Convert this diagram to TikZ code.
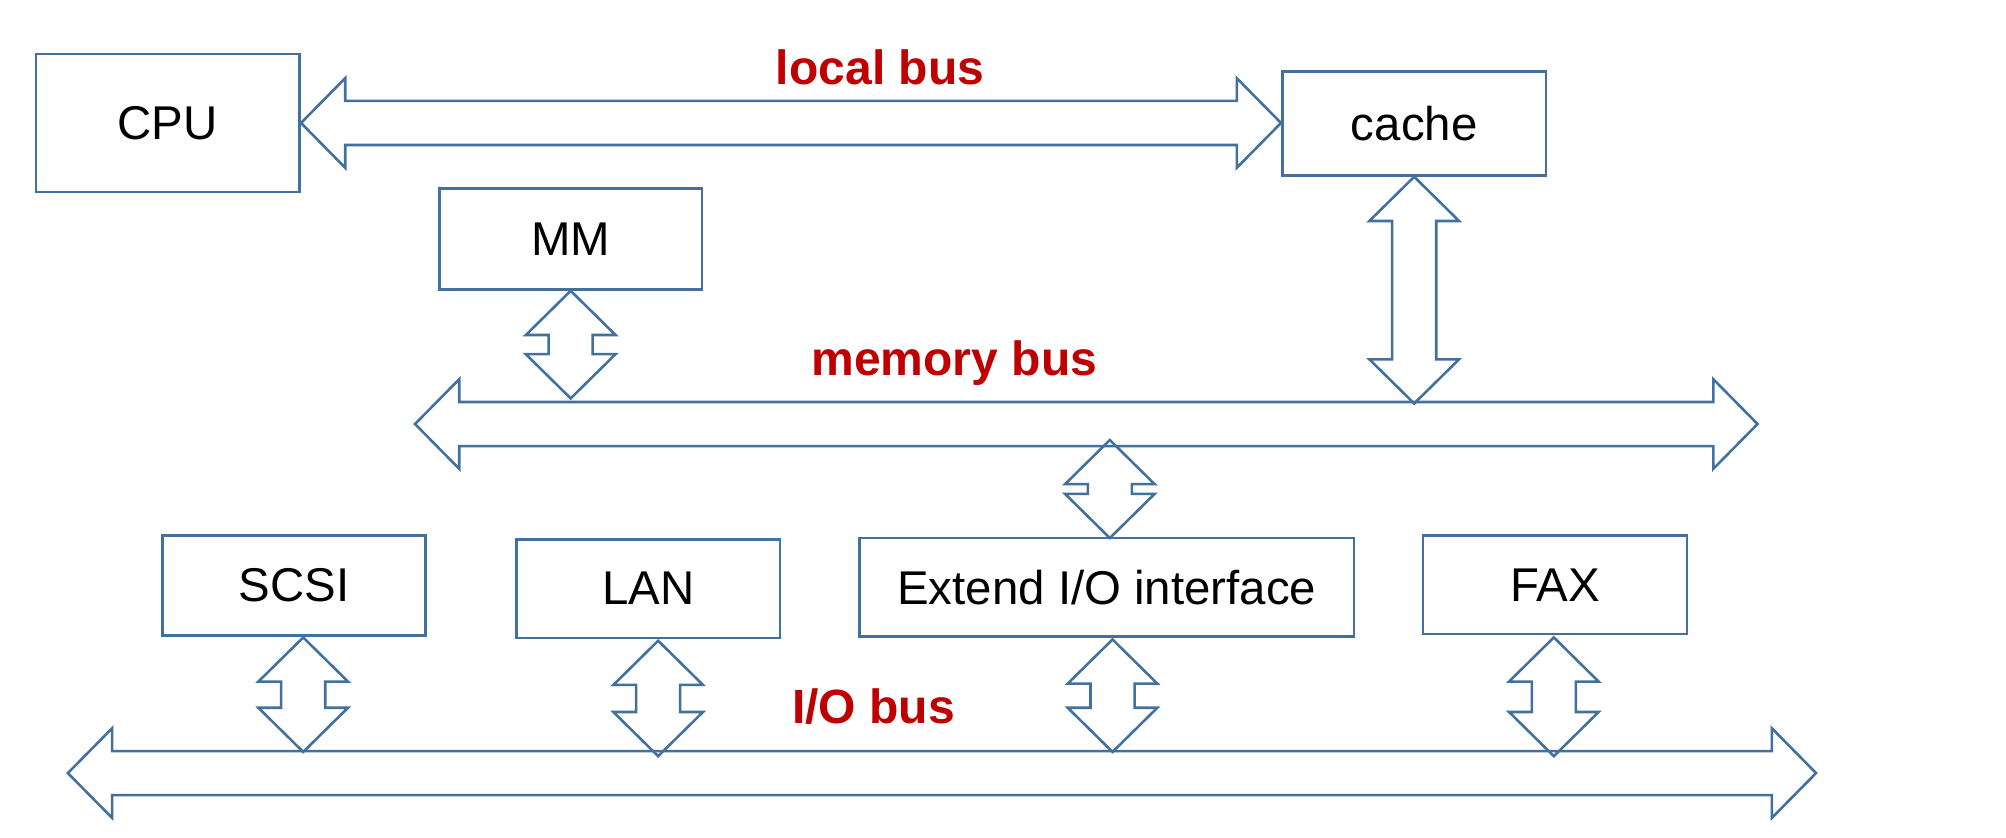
\documentclass[tikz,border=0pt]{standalone}
\usepackage{fontspec}
\setmainfont{Liberation Sans}
\usetikzlibrary{calc}
\definecolor{busblue}{RGB}{65,113,156}
\definecolor{busred}{RGB}{192,0,0}
\tikzset{
  unit box/.style={draw=busblue, line width=2pt, inner sep=0pt, text=black,
    font=\fontsize{37}{42}\selectfont},
  busline/.style={draw=busblue, line width=2pt, line join=miter},
  buslabel/.style={anchor=base, text=busred, inner sep=0pt,
    font=\fontsize{37.5}{42}\selectfont\bfseries}
}
% vertical double block arrow: #1 top tip, #2 bottom tip
\newcommand\vbarrow[2]{%
  \draw[busline] let \p1=#1, \p2=#2 in
    (\x1,\y1) -- (\x1+35pt,\y1-34.5pt) -- (\x1+17.2pt,\y1-34.5pt)
    -- (\x1+17.2pt,\y2+34.5pt) -- (\x1+35pt,\y2+34.5pt) -- (\x1,\y2)
    -- (\x1-35pt,\y2+34.5pt) -- (\x1-17.2pt,\y2+34.5pt)
    -- (\x1-17.2pt,\y1-34.5pt) -- (\x1-35pt,\y1-34.5pt) -- cycle;}
% horizontal double block arrow: #1 left tip, #2 right tip
\newcommand\hbarrow[2]{%
  \draw[busline] let \p1=#1, \p2=#2 in
    (\x1,\y1) -- (\x1+34.5pt,\y1+35pt) -- (\x1+34.5pt,\y1+17.2pt)
    -- (\x2-34.5pt,\y1+17.2pt) -- (\x2-34.5pt,\y1+35pt) -- (\x2,\y1)
    -- (\x2-34.5pt,\y1-35pt) -- (\x2-34.5pt,\y1-17.2pt)
    -- (\x1+34.5pt,\y1-17.2pt) -- (\x1+34.5pt,\y1-35pt) -- cycle;}
\begin{document}
\begin{tikzpicture}[x=1pt,y=-1pt]
\fill[white] (0,0) rectangle (1566,654);
\useasboundingbox (0,0) rectangle (1566,654);

% boxes
\node[unit box, minimum width=206pt, minimum height=108pt] (cpu) at (131,96) {CPU};
\node[unit box, minimum width=206pt, minimum height=81pt] (cache) at (1104,96.5) {cache};
\node[unit box, minimum width=205pt, minimum height=79pt] (mm) at (445.5,186.5) {MM};
\node[unit box, minimum width=205pt, minimum height=78pt] (scsi) at (229.5,457) {SCSI};
\node[unit box, minimum width=206pt, minimum height=77pt] (lan) at (506,459.5) {LAN};
\node[unit box, minimum width=386pt, minimum height=77pt] (ext) at (864,458.5) {Extend I/O interface};
\node[unit box, minimum width=206pt, minimum height=77pt] (fax) at (1214,456.5) {FAX};

% bus end points
\coordinate (mbL) at (324,331);
\coordinate (mbR) at (1372,331);
\coordinate (ioL) at (53,603.5);
\coordinate (ioR) at (1417.7,603.5);

% buses
\hbarrow{(cpu.east)}{(cache.west)}
\hbarrow{(mbL)}{(mbR)}
\hbarrow{(ioL)}{(ioR)}

% connector tips on the buses
\coordinate (cacheB) at (1104,315);
\coordinate (mmB) at (445.5,311);
\coordinate (extT) at (866.4,343.5);
\coordinate (extB) at (866.4,420);
\coordinate (extIoT) at (868.5,499.2);
\coordinate (extIoB) at (868.5,587);
\coordinate (scsiB) at (236.7,587);
\coordinate (scsiT) at (236.7,497.6);
\coordinate (lanT) at (513.8,500.2);
\coordinate (lanB) at (513.8,590.3);
\coordinate (faxT) at (1213,497.6);
\coordinate (faxB) at (1213,590.3);

\vbarrow{(cache.south)}{(cacheB)}
\vbarrow{(mm.south)}{(mmB)}
\vbarrow{(extT)}{(extB)}
\vbarrow{(extIoT)}{(extIoB)}
\vbarrow{(scsiT)}{(scsiB)}
\vbarrow{(lanT)}{(lanB)}
\vbarrow{(faxT)}{(faxB)}

% labels
\node[buslabel] (lbl) at (687,65.6) {local bus};
\node[buslabel] (mbl) at (745,292.8) {memory bus};
\node[buslabel] (iol) at (682,565) {I/O bus};
\end{tikzpicture}
\end{document}
